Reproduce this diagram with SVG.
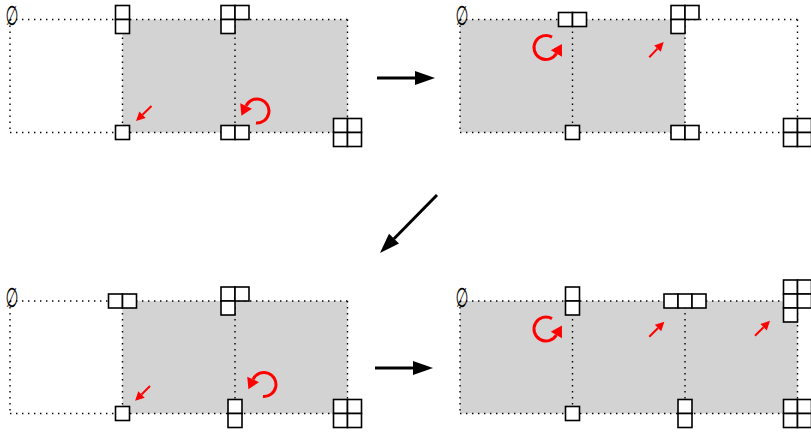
<svg xmlns="http://www.w3.org/2000/svg" width="811" height="432" viewBox="0 0 811 432">
  <style>
    .bg { fill: #ffffff; }
    .shade { fill: #d3d3d3; stroke: none; }
    .dot { fill: none; stroke: #000; stroke-width: 1.4; stroke-dasharray: 1.4 4.6; }
    .cell { fill: #ffffff; stroke: #000; stroke-width: 1.6; }
    .empty { font-family: "DejaVu Sans", sans-serif; font-size: 27px; fill: #000; }
    .rot { fill: none; stroke: #ff0000; stroke-width: 3; marker-end: url(#redbig); }
    .mv { fill: none; stroke: #ff0000; stroke-width: 2; marker-end: url(#redsmall); }
    .conn { fill: none; stroke: #000; stroke-width: 3; marker-end: url(#blackhead); }
  </style>
  <defs>
    <marker id="blackhead" markerUnits="userSpaceOnUse" markerWidth="21" markerHeight="15" refX="0" refY="7" orient="auto" overflow="visible">
      <path d="M0,0 L20,7 L0,14 Z" fill="#000"/>
    </marker>
    <marker id="redbig" markerUnits="userSpaceOnUse" markerWidth="12" markerHeight="13" refX="0" refY="6.5" orient="auto" overflow="visible">
      <path d="M0,0 L11,6.5 L0,13 Z" fill="#ff0000"/>
    </marker>
    <marker id="redsmall" markerUnits="userSpaceOnUse" markerWidth="10" markerHeight="10" refX="0" refY="4.5" orient="auto" overflow="visible">
      <path d="M0,0 L9,4.5 L0,9 Z" fill="#ff0000"/>
    </marker>
  </defs>
  <rect class="bg" x="0" y="0" width="811" height="432"/>

  <!-- Panel 1 (top left) -->
  <g id="panel1">
    <rect class="shade" x="122.5" y="19.5" width="225" height="113"/>
    <path class="dot" d="M10,19.5 H347.5 M10,132.5 H347.5 M10,19.5 V132.5 M122.5,19.5 V132.5 M235,19.5 V132.5 M347.5,19.5 V132.5"/>
    <text class="empty" transform="translate(5.5,25) scale(0.55,1)">∅</text>
    <g id="p1-t1"><rect class="cell" x="115.5" y="5.5" width="14" height="14"/><rect class="cell" x="115.5" y="19.5" width="14" height="14"/></g>
    <g id="p1-t2"><rect class="cell" x="221" y="5.5" width="14" height="14"/><rect class="cell" x="235" y="5.5" width="14" height="14"/><rect class="cell" x="221" y="19.5" width="14" height="14"/></g>
    <g id="p1-b1"><rect class="cell" x="115.5" y="125.5" width="14" height="14"/></g>
    <g id="p1-b2"><rect class="cell" x="221" y="125.5" width="14" height="14"/><rect class="cell" x="235" y="125.5" width="14" height="14"/></g>
    <g id="p1-b3"><rect class="cell" x="333.5" y="118.5" width="14" height="14"/><rect class="cell" x="347.5" y="118.5" width="14" height="14"/><rect class="cell" x="333.5" y="132.5" width="14" height="14"/><rect class="cell" x="347.5" y="132.5" width="14" height="14"/></g>
    <path class="mv" d="M151.5,106 L142.5,114.7"/>
    <path class="rot" d="M255.95,122.95 A12,12 0 1 0 246.1,105.9"/>
  </g>

  <!-- Panel 2 (top right) -->
  <g id="panel2">
    <rect class="shade" x="460" y="19.5" width="225" height="113"/>
    <path class="dot" d="M460,19.5 H797.5 M460,132.5 H797.5 M460,19.5 V132.5 M572.5,19.5 V132.5 M685,19.5 V132.5 M797.5,19.5 V132.5"/>
    <text class="empty" transform="translate(455.5,25) scale(0.55,1)">∅</text>
    <g id="p2-t1"><rect class="cell" x="558.5" y="12.5" width="14" height="14"/><rect class="cell" x="572.5" y="12.5" width="14" height="14"/></g>
    <g id="p2-t2"><rect class="cell" x="671" y="5.5" width="14" height="14"/><rect class="cell" x="685" y="5.5" width="14" height="14"/><rect class="cell" x="671" y="19.5" width="14" height="14"/></g>
    <g id="p2-b1"><rect class="cell" x="565.5" y="125.5" width="14" height="14"/></g>
    <g id="p2-b2"><rect class="cell" x="671" y="125.5" width="14" height="14"/><rect class="cell" x="685" y="125.5" width="14" height="14"/></g>
    <g id="p2-b3"><rect class="cell" x="783.5" y="118.5" width="14" height="14"/><rect class="cell" x="797.5" y="118.5" width="14" height="14"/><rect class="cell" x="783.5" y="132.5" width="14" height="14"/><rect class="cell" x="797.5" y="132.5" width="14" height="14"/></g>
    <path class="rot" d="M552,37.1 A12,12 0 1 0 556.4,53.5"/>
    <path class="mv" d="M649.3,57.3 L657.5,48.6"/>
  </g>

  <!-- Panel 3 (bottom left) -->
  <g id="panel3">
    <rect class="shade" x="122.5" y="301" width="225" height="112.5"/>
    <path class="dot" d="M10,301 H347.5 M10,413.5 H347.5 M10,301 V413.5 M122.5,301 V413.5 M235,301 V413.5 M347.5,301 V413.5"/>
    <text class="empty" transform="translate(5.5,306.5) scale(0.55,1)">∅</text>
    <g id="p3-t1"><rect class="cell" x="108.5" y="294" width="14" height="14"/><rect class="cell" x="122.5" y="294" width="14" height="14"/></g>
    <g id="p3-t2"><rect class="cell" x="221" y="287" width="14" height="14"/><rect class="cell" x="235" y="287" width="14" height="14"/><rect class="cell" x="221" y="301" width="14" height="14"/></g>
    <g id="p3-b1"><rect class="cell" x="115.5" y="406.5" width="14" height="14"/></g>
    <g id="p3-b2"><rect class="cell" x="228" y="399.5" width="14" height="14"/><rect class="cell" x="228" y="413.5" width="14" height="14"/></g>
    <g id="p3-b3"><rect class="cell" x="333.5" y="399.5" width="14" height="14"/><rect class="cell" x="347.5" y="399.5" width="14" height="14"/><rect class="cell" x="333.5" y="413.5" width="14" height="14"/><rect class="cell" x="347.5" y="413.5" width="14" height="14"/></g>
    <path class="mv" d="M150,386 L141.5,394.5"/>
    <path class="rot" d="M262.95,396.45 A12,12 0 1 0 253.1,379.4"/>
  </g>

  <!-- Panel 4 (bottom right) -->
  <g id="panel4">
    <rect class="shade" x="460" y="301" width="337.5" height="112.5"/>
    <path class="dot" d="M460,301 H797.5 M460,413.5 H797.5 M460,301 V413.5 M572.5,301 V413.5 M685,301 V413.5 M797.5,301 V413.5"/>
    <text class="empty" transform="translate(455.5,306.5) scale(0.55,1)">∅</text>
    <g id="p4-t1"><rect class="cell" x="565.5" y="287" width="14" height="14"/><rect class="cell" x="565.5" y="301" width="14" height="14"/></g>
    <g id="p4-t2"><rect class="cell" x="664" y="294" width="14" height="14"/><rect class="cell" x="678" y="294" width="14" height="14"/><rect class="cell" x="692" y="294" width="14" height="14"/></g>
    <g id="p4-t3"><rect class="cell" x="783.5" y="280" width="14" height="14"/><rect class="cell" x="797.5" y="280" width="14" height="14"/><rect class="cell" x="783.5" y="294" width="14" height="14"/><rect class="cell" x="797.5" y="294" width="14" height="14"/><rect class="cell" x="783.5" y="308" width="14" height="14"/></g>
    <g id="p4-b1"><rect class="cell" x="565.5" y="406.5" width="14" height="14"/></g>
    <g id="p4-b2"><rect class="cell" x="678" y="399.5" width="14" height="14"/><rect class="cell" x="678" y="413.5" width="14" height="14"/></g>
    <g id="p4-b3"><rect class="cell" x="783.5" y="399.5" width="14" height="14"/><rect class="cell" x="797.5" y="399.5" width="14" height="14"/><rect class="cell" x="783.5" y="413.5" width="14" height="14"/><rect class="cell" x="797.5" y="413.5" width="14" height="14"/></g>
    <path class="rot" d="M552,318.6 A12,12 0 1 0 556.4,335"/>
    <path class="mv" d="M649.3,336.7 L658,328"/>
    <path class="mv" d="M755,335.7 L763.6,327.2"/>
  </g>

  <!-- Connectors between panels -->
  <g id="connectors">
    <path class="conn" d="M377,78 L415,78"/>
    <path class="conn" d="M437,195 L394,238.7"/>
    <path class="conn" d="M375,368 L413,368"/>
  </g>
</svg>
